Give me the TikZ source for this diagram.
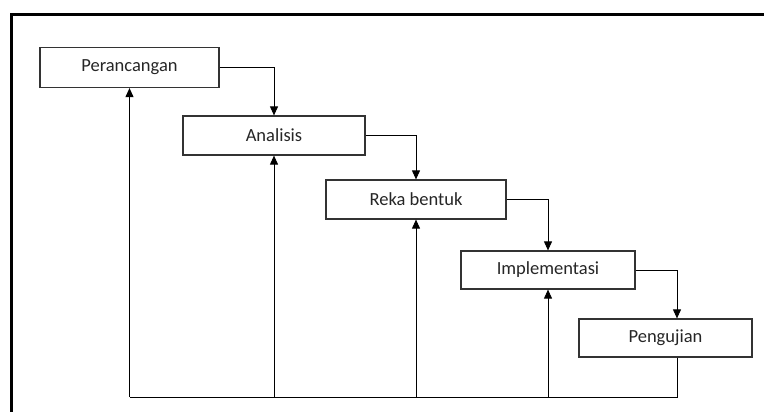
\documentclass[tikz,border=0pt]{standalone}
\usepackage{fontspec}
\setmainfont{Carlito}
\usetikzlibrary{arrows.meta}
\begin{document}
\begin{tikzpicture}[x=1pt,y=-1pt,
  stagebox/.style={draw=black!80,line width=1.2pt,fill=white,inner sep=0pt,
    font=\fontsize{18.5}{20}\selectfont,text=black!85},
  conn/.style={draw=black,line width=0.9pt},
  arr/.style={conn,-{Triangle[length=9pt,width=8pt]}}]
\useasboundingbox (0,0) rectangle (764,412);
% frame
\draw[line width=2.5pt] (11.7,413) -- (11.7,14.5) -- (765,14.5);
% boxes
\node[stagebox,minimum width=179pt,minimum height=40pt] (P) at (129.5,67.5) {Perancangan};
\node[stagebox,minimum width=182pt,minimum height=39pt] (A) at (274,135.5) {Analisis};
\node[stagebox,minimum width=180pt,minimum height=39pt] (R) at (416,199.5) {Reka bentuk};
\node[stagebox,minimum width=174pt,minimum height=38pt] (I) at (548,270) {Implementasi};
\node[stagebox,minimum width=173pt,minimum height=38pt] (G) at (665.5,338) {Pengujian};
\coordinate (base) at (0,397);
\coordinate (gtop) at ([xshift=11.5pt]G.north);
\coordinate (gbot) at ([xshift=11.5pt]G.south);
% forward flow
\draw[arr] (P.east) -| (A.north);
\draw[arr] (A.east) -| (R.north);
\draw[arr] (R.east) -| (I.north);
\draw[arr] (I.east) -| (gtop);
% feedback
\draw[conn] (gbot) -- (gbot |- base) -- (P.south |- base);
\draw[arr] (P.south |- base) -- (P.south);
\draw[arr] (A.south |- base) -- (A.south);
\draw[arr] (R.south |- base) -- (R.south);
\draw[arr] (I.south |- base) -- (I.south);
\end{tikzpicture}
\end{document}
